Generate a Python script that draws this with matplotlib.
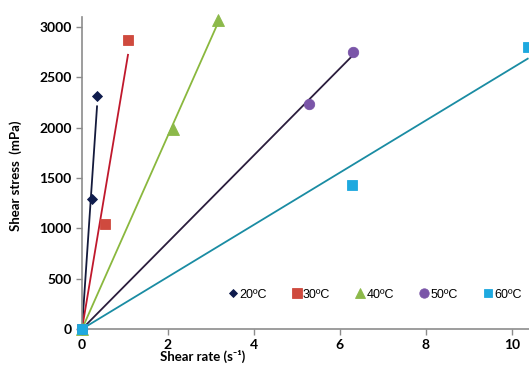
import numpy as np
import matplotlib
matplotlib.use("Agg")
import matplotlib.pyplot as plt

# measured points (shear rate s^-1, shear stress mPa), origin included
labels = ["20ºC", "30ºC", "40ºC", "50ºC", "60ºC"]
x20 = [0, 0.23, 0.35]
y20 = [0, 1290, 2320]
x30 = [0, 0.53, 1.07]
y30 = [0, 1045, 2875]
x40 = [0, 2.12, 3.16]
y40 = [0, 1990, 3070]
x50 = [0, 5.28, 6.30]
y50 = [0, 2235, 2755]
x60 = [0, 6.28, 10.37]
y60 = [0, 1430, 2805]

xs = [x20, x30, x40, x50, x60]
ys = [y20, y30, y40, y50, y60]
markers = ["D", "s", "^", "o", "s"]
msizes = [5, 7.5, 8, 7.5, 7]
mcolors = ["#0f1c4d", "#cf4a3e", "#8cb94a", "#7a55a8", "#1ea9df"]
lcolors = ["#141a3c", "#c0182c", "#8ab83e", "#2b1d3d", "#1a8ca3"]

fig = plt.figure(figsize=(5.29, 3.67), dpi=100)
ax = fig.add_axes([0.155, 0.1035, 0.845, 0.8502])

handles = []
for x, y, m, ms, mc, lc, lab in zip(xs, ys, markers, msizes, mcolors, lcolors, labels):
    x = np.array(x, dtype=float)
    y = np.array(y, dtype=float)
    # linear trendline through the origin
    k = np.sum(x * y) / np.sum(x * x)
    xl = np.array([0, x.max()])
    ax.plot(xl, k * xl, color=lc, lw=1.3, zorder=2)
    h, = ax.plot(x, y, ls="none", marker=m, ms=ms, color=mc,
                 markeredgecolor=mc, mew=0.6, label=lab, zorder=3, clip_on=False)
    handles.append(h)

ax.set_xlim(0, 10.4)
ax.set_ylim(0, 3100)
ax.set_xticks([0, 2, 4, 6, 8, 10])
ax.set_yticks([0, 500, 1000, 1500, 2000, 2500, 3000])

for s in ["top", "right"]:
    ax.spines[s].set_visible(False)
for s in ["left", "bottom"]:
    ax.spines[s].set_color("#8c8c8c")
    ax.spines[s].set_linewidth(1.2)
ax.tick_params(axis="both", colors="#8c8c8c", length=4, width=1, direction="out")
for t in ax.get_xticklabels() + ax.get_yticklabels():
    t.set_color("black")
    t.set_fontweight("bold")
    t.set_fontsize(10)
    t.set_family("Lato")

ax.set_ylabel("Shear stress  (mPa)", fontsize=9.5, fontweight="bold", family="Lato")
ax.set_xlabel("Shear rate (s\u207b\u00b9)", fontsize=9.5, fontweight="bold",
              family=["Lato", "DejaVu Sans"])
ax.yaxis.set_label_coords(-0.135, 0.49)
ax.xaxis.set_label_coords(0.27, -0.068)

ax.legend(handles=handles, loc="center", bbox_to_anchor=(0.655, 0.11), ncol=5,
          frameon=False, handlelength=0.8, handletextpad=0.1, columnspacing=2.0,
          prop={"family": "Liberation Sans", "size": 9}, markerscale=0.9)

fig.savefig("out.png", dpi=100)
